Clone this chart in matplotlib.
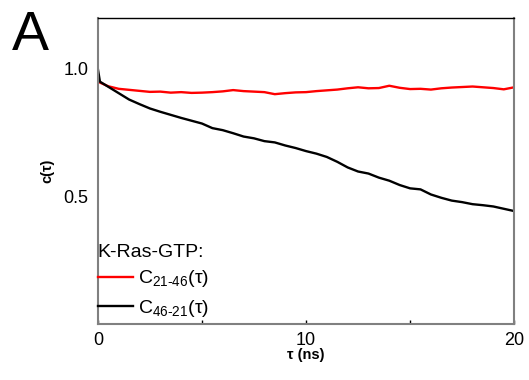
import matplotlib
matplotlib.use("Agg")
import matplotlib.pyplot as plt

plt.rcParams["font.family"] = ["Liberation Sans", "DejaVu Sans"]
plt.rcParams["mathtext.fontset"] = "custom"
plt.rcParams["mathtext.rm"] = "Liberation Sans"
plt.rcParams["mathtext.it"] = "Liberation Sans:italic"

# tempo (ns) e valori
t_black = [0.0, 0.1, 0.5, 1.0, 1.5, 2.0, 2.5, 3.0, 3.5, 4.0, 4.5, 5.0, 5.5,
           6.0, 6.5, 7.0, 7.5, 8.0, 8.5, 9.0, 9.5, 10.0, 10.5, 11.0, 11.5,
           12.0, 12.5, 13.0, 13.5, 14.0, 14.5, 15.0, 15.5, 16.0, 16.5, 17.0,
           17.5, 18.0, 18.5, 19.0, 19.5, 20.0]
c_46_21 = [1.0, 0.950, 0.930, 0.905, 0.880, 0.862, 0.845, 0.832, 0.820, 0.808,
           0.797, 0.786, 0.768, 0.760, 0.748, 0.735, 0.728, 0.717, 0.712,
           0.700, 0.690, 0.678, 0.668, 0.655, 0.636, 0.614, 0.598, 0.590,
           0.574, 0.562, 0.545, 0.532, 0.528, 0.508, 0.495, 0.484, 0.478,
           0.470, 0.466, 0.461, 0.452, 0.443]

t_red = [0.0, 0.5, 1.0, 1.5, 2.0, 2.5, 3.0, 3.5, 4.0, 4.5, 5.0, 5.5, 6.0,
         6.5, 7.0, 7.5, 8.0, 8.5, 9.0, 9.5, 10.0, 10.5, 11.0, 11.5, 12.0,
         12.5, 13.0, 13.5, 14.0, 14.5, 15.0, 15.5, 16.0, 16.5, 17.0, 17.5,
         18.0, 18.5, 19.0, 19.5, 20.0]
c_21_46 = [0.950, 0.932, 0.922, 0.918, 0.914, 0.910, 0.911, 0.907, 0.909,
           0.906, 0.907, 0.909, 0.912, 0.917, 0.913, 0.911, 0.909, 0.901,
           0.905, 0.908, 0.909, 0.913, 0.916, 0.919, 0.924, 0.928, 0.924,
           0.925, 0.934, 0.926, 0.921, 0.922, 0.919, 0.924, 0.927, 0.929,
           0.931, 0.928, 0.925, 0.920, 0.928]

x_ticks = [0, 10, 20]
x_minor = [5, 15]
y_ticks = [0.5, 1.0]

fig = plt.figure(figsize=(5.29, 3.80), dpi=100)
ax = fig.add_axes([0.185, 0.147, 0.787, 0.806])

ax.plot(t_red, c_21_46, color="#ff0000", lw=1.7,
        label=r"C$_{\mathrm{21\text{-}46}}$(τ)")
ax.plot(t_black, c_46_21, color="black", lw=1.7,
        label=r"C$_{\mathrm{46\text{-}21}}$(τ)")

ax.set_xlim(0, 20)
ax.set_ylim(0, 1.2)
ax.set_xticks(x_ticks)
ax.set_xticks(x_minor, minor=True)
ax.set_yticks(y_ticks)
ax.set_yticklabels(["0.5", "1.0"])
ax.tick_params(axis="x", which="both", direction="in", length=3, width=1,
               labelsize=13, pad=6)
ax.tick_params(axis="y", length=0, labelsize=13, pad=7)

for lato in ["left", "right", "bottom"]:
    ax.spines[lato].set_color("#808080")
    ax.spines[lato].set_linewidth(1.5)
ax.spines["top"].set_color("black")
ax.spines["top"].set_linewidth(1.0)

ax.set_xlabel("τ (ns)", fontsize=10.5, fontweight="bold", labelpad=-1)
ax.set_ylabel("c(τ)", fontsize=10.5, fontweight="bold", labelpad=6)

leg = ax.legend(title="K-Ras-GTP:", loc="lower left",
                bbox_to_anchor=(-0.005, 0.01), frameon=False, fontsize=14,
                title_fontsize=14, handlelength=1.8, handletextpad=0.25,
                labelspacing=0.45, borderpad=0.1, borderaxespad=0)
leg._legend_box.align = "left"
leg._legend_box.sep = 5

fig.text(0.022, 0.975, "A", fontsize=40, va="top", ha="left")

fig.savefig("out.png", dpi=100)
